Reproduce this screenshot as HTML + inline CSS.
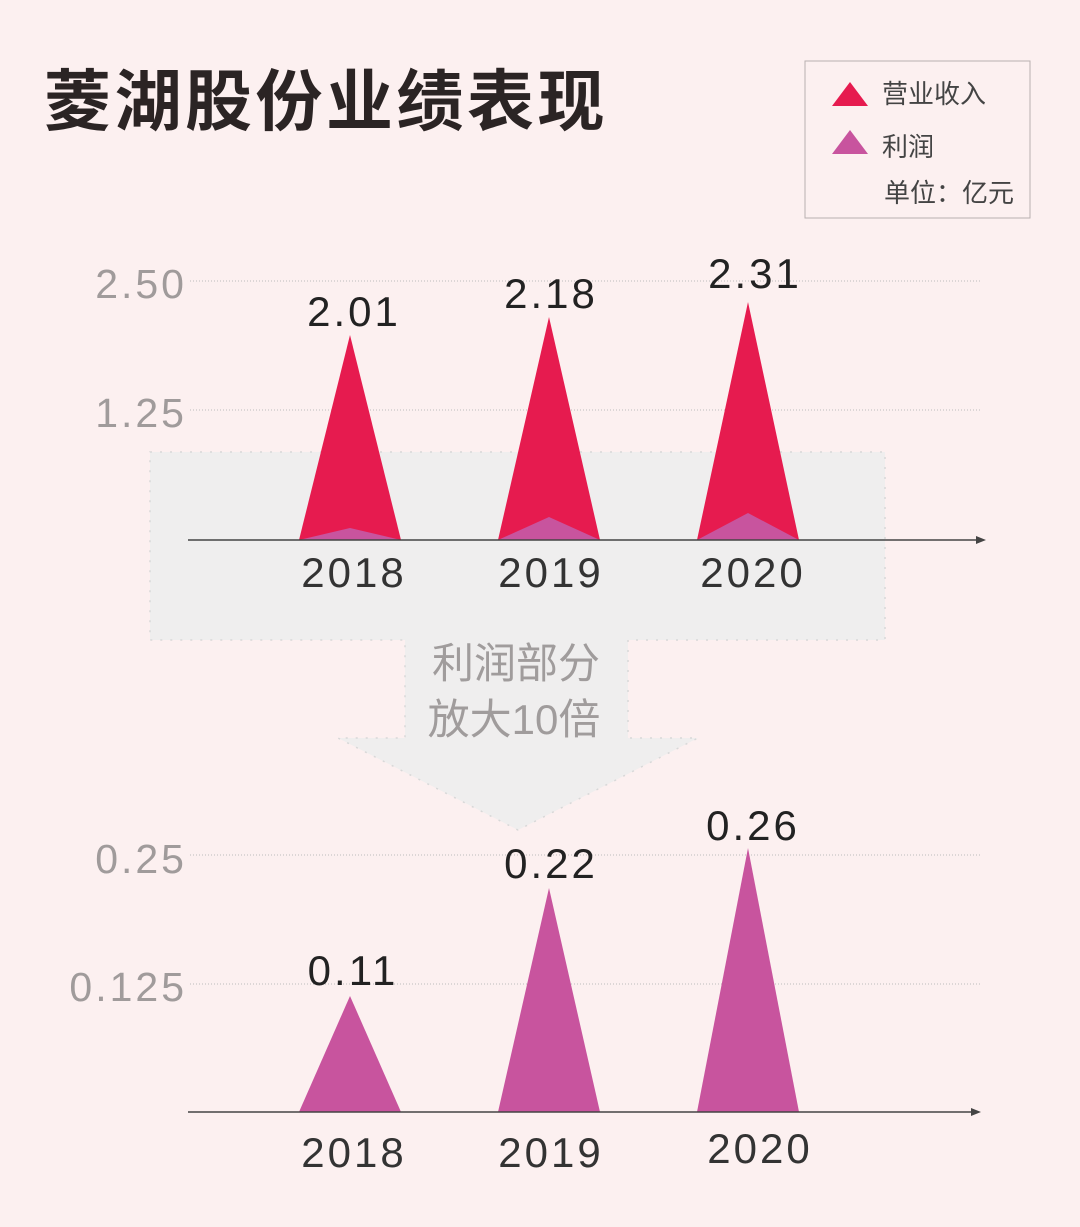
<!DOCTYPE html>
<html><head><meta charset="utf-8"><style>
html,body{margin:0;padding:0;background:#fcf0f0;}
svg{display:block}
text{font-family:"Liberation Sans","Noto Sans CJK SC",sans-serif;}
.n{letter-spacing:3px;}
</style></head><body>
<svg width="1080" height="1227" viewBox="0 0 1080 1227">
<rect width="1080" height="1227" fill="#fcf0f0"/>
<path d="M150 452 H885 V640 H628 V738 H698 L518 830 L338 738 H405 V640 H150 Z" fill="#efeeee" stroke="#d8d8d8" stroke-width="1.5" stroke-dasharray="2 8"/>
<text x="44" y="125" font-size="67" font-weight="bold" fill="#2b2424" font-family="'Noto Sans CJK SC',sans-serif" letter-spacing="3.5">菱湖股份业绩表现</text>
<rect x="805" y="61" width="225" height="157" fill="#fcf0f0" stroke="#b9b0b0" stroke-width="1"/>
<polygon points="832,106 850,82 868,106" fill="#e61b4f"/>
<text x="882" y="103" font-size="26" fill="#444">营业收入</text>
<polygon points="832,154 850,130 868,154" fill="#c8549e"/>
<text x="882" y="156" font-size="26" fill="#444">利润</text>
<text x="884" y="202" font-size="26" fill="#444">单位：亿元</text>
<g stroke="#bbb" stroke-width="1" stroke-dasharray="1 2">
<line x1="190" y1="281" x2="980" y2="281"/>
<line x1="190" y1="410" x2="980" y2="410"/>
</g>
<text class="n" x="187" y="298" font-size="41" fill="#a09b9b" text-anchor="end">2.50</text>
<text class="n" x="187" y="427" font-size="41" fill="#a09b9b" text-anchor="end">1.25</text>
<polygon points="299,540 350,335 401,540" fill="#e61b4f"/>
<polygon points="498,540 549,317 600,540" fill="#e61b4f"/>
<polygon points="697,540 748,302 799,540" fill="#e61b4f"/>
<polygon points="299,540 350,528 401,540" fill="#c8549e"/>
<polygon points="498,540 549,517 600,540" fill="#c8549e"/>
<polygon points="697,540 748,513 799,540" fill="#c8549e"/>
<line x1="188" y1="540" x2="980" y2="540" stroke="#444" stroke-width="1.5"/>
<polygon points="986,540 976,536 976,544" fill="#444"/>
<text class="n" x="354" y="326" font-size="42" fill="#222" text-anchor="middle">2.01</text>
<text class="n" x="551" y="308" font-size="42" fill="#222" text-anchor="middle">2.18</text>
<text class="n" x="755" y="288" font-size="42" fill="#222" text-anchor="middle">2.31</text>
<text class="n" x="354" y="587" font-size="42" fill="#333" text-anchor="middle">2018</text>
<text class="n" x="551" y="587" font-size="42" fill="#333" text-anchor="middle">2019</text>
<text class="n" x="753" y="587" font-size="42" fill="#333" text-anchor="middle">2020</text>
<text x="516" y="678" font-size="42" fill="#a09c9c" text-anchor="middle">利润部分</text>
<text x="514" y="734" font-size="42" fill="#a09c9c" text-anchor="middle">放大10倍</text>
<g stroke="#bbb" stroke-width="1" stroke-dasharray="1 2">
<line x1="190" y1="855" x2="980" y2="855"/>
<line x1="190" y1="984" x2="980" y2="984"/>
</g>
<text class="n" x="187" y="873" font-size="41" fill="#a09b9b" text-anchor="end">0.25</text>
<text class="n" x="187" y="1001" font-size="41" fill="#a09b9b" text-anchor="end">0.125</text>
<polygon points="299,1112 350,996 401,1112" fill="#c8549e"/>
<polygon points="498,1112 549,888 600,1112" fill="#c8549e"/>
<polygon points="697,1112 748,848 799,1112" fill="#c8549e"/>
<line x1="188" y1="1112" x2="975" y2="1112" stroke="#444" stroke-width="1.5"/>
<polygon points="981,1112 971,1108 971,1116" fill="#444"/>
<text class="n" x="353" y="985" font-size="42" fill="#222" text-anchor="middle">0.11</text>
<text class="n" x="551" y="878" font-size="42" fill="#222" text-anchor="middle">0.22</text>
<text class="n" x="753" y="840" font-size="42" fill="#222" text-anchor="middle">0.26</text>
<text class="n" x="354" y="1167" font-size="42" fill="#333" text-anchor="middle">2018</text>
<text class="n" x="551" y="1167" font-size="42" fill="#333" text-anchor="middle">2019</text>
<text class="n" x="760" y="1163" font-size="42" fill="#333" text-anchor="middle">2020</text>
</svg>
</body></html>
